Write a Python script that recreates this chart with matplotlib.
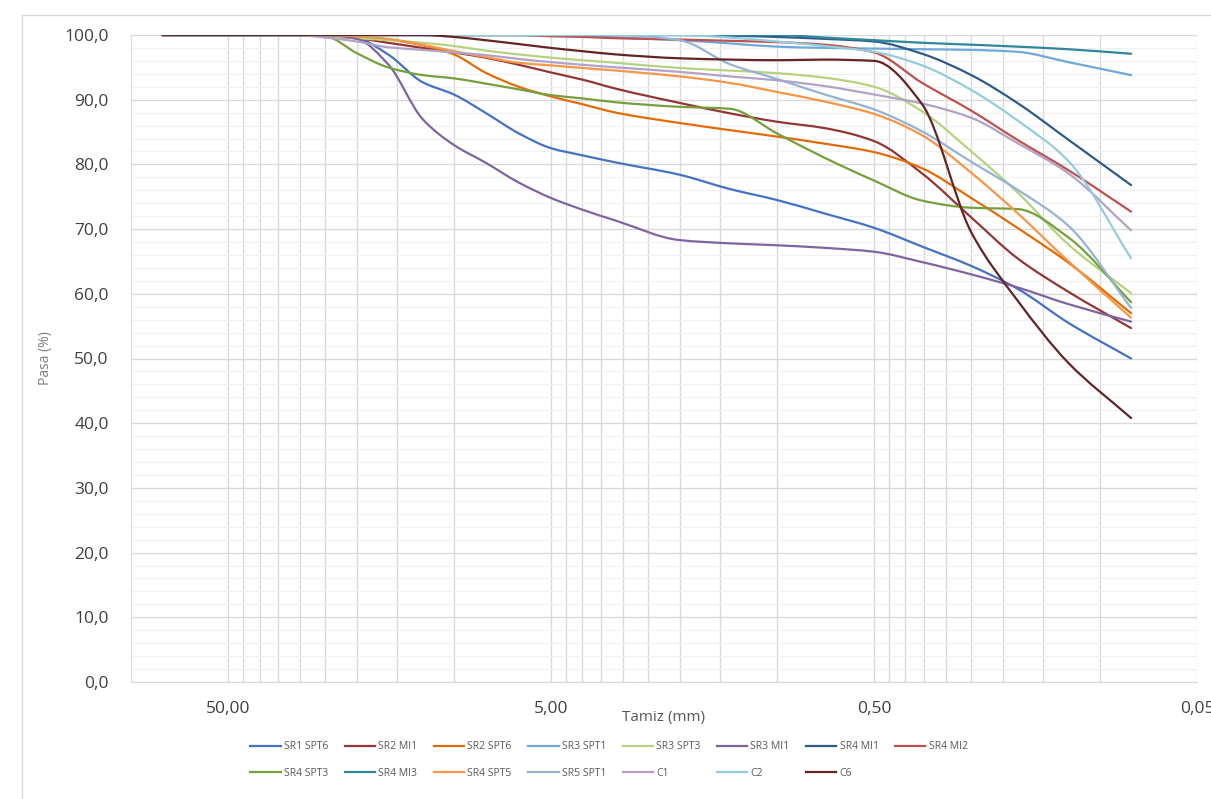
import numpy as np
import matplotlib
matplotlib.use('Agg')
import matplotlib.pyplot as plt
from matplotlib.path import Path
from matplotlib.patches import PathPatch, Rectangle
from matplotlib.lines import Line2D
from matplotlib.ticker import FixedLocator, FuncFormatter

plt.rcParams['font.family'] = ['Open Sans', 'DejaVu Sans']

# sieve openings (mm)
sieve = [80, 63, 50, 40, 31.5, 25, 20, 16, 12.5, 10, 8, 6.3, 5, 4, 3.15, 2, 1.4, 1,
         0.71, 0.5, 0.355, 0.25, 0.18, 0.125, 0.08]

# percent passing for each sample
sr1_spt6 = [100, 100, 100, 100, 100, 99.9, 99.5, 97.0, 92.7, 90.8, 88.0, 84.8, 82.5, 81.4, 80.3,
            78.4, 76.2, 74.5, 72.4, 70.2, 67.3, 64.3, 60.8, 55.5, 50.0]
sr2_mi1 = [100, 100, 100, 100, 100, 99.8, 99.5, 98.8, 98.0, 97.3, 96.5, 95.4, 94.2, 93.1, 91.7,
           89.5, 87.9, 86.6, 85.6, 83.6, 78.6, 71.8, 65.5, 60.3, 54.7]
sr2_spt6 = [100, 100, 100, 100, 100, 99.9, 99.7, 99.3, 98.4, 97.0, 94.2, 92.0, 90.5, 89.3, 88.0,
            86.4, 85.3, 84.3, 83.2, 81.9, 79.4, 74.8, 70.2, 64.8, 57.0]
sr3_spt1 = [100, 100, 100, 100, 100, 100, 100, 100, 100, 100, 100, 100, 99.9, 99.8, 99.6,
            99.2, 98.7, 98.2, 98.0, 97.9, 97.8, 97.7, 97.4, 95.8, 93.8]
sr3_spt3 = [100, 100, 100, 100, 100, 99.8, 99.5, 99.2, 98.8, 98.3, 97.6, 97.0, 96.5, 96.1, 95.7,
            94.9, 94.5, 94.1, 93.4, 92.0, 88.2, 82.0, 75.7, 67.6, 60.1]
sr3_mi1 = [100, 100, 100, 100, 100, 100, 99.4, 95.5, 87.0, 83.0, 80.3, 77.2, 74.8, 73.0, 71.3,
           68.3, 67.8, 67.5, 67.1, 66.5, 64.9, 63.0, 61.0, 58.4, 55.7]
sr4_mi1 = [100, 100, 100, 100, 100, 100, 100, 100, 100, 100, 100, 100, 100, 100, 100,
           100, 99.9, 99.7, 99.4, 99.0, 97.1, 93.8, 89.5, 83.8, 76.8]
sr4_mi2 = [100, 100, 100, 100, 100, 100, 100, 100, 100, 100, 100, 100, 99.8, 99.7, 99.5,
           99.3, 99.1, 98.9, 98.5, 97.3, 92.6, 88.3, 83.8, 79.1, 72.7]
sr4_spt3 = [100, 100, 100, 100, 100, 99.8, 97.2, 95.0, 93.8, 93.3, 92.5, 91.6, 90.7, 90.2, 89.6,
            88.9, 88.6, 84.8, 81.0, 77.5, 74.4, 73.3, 73.1, 68.7, 58.7]
sr4_mi3 = [100, 100, 100, 100, 100, 100, 100, 100, 100, 100, 100, 100, 100, 100, 100,
           100, 100, 100, 99.6, 99.2, 98.8, 98.5, 98.2, 97.8, 97.1]
sr4_spt5 = [100, 100, 100, 100, 100, 100, 99.8, 99.4, 98.5, 97.5, 96.6, 95.7, 95.3, 94.9, 94.5,
            93.6, 92.6, 91.2, 89.7, 87.8, 84.5, 78.7, 72.5, 65.0, 56.3]
sr5_spt1 = [100, 100, 100, 100, 100, 100, 100, 100, 100, 100, 100, 100, 100, 100, 100,
            99.2, 95.5, 93.2, 90.8, 88.5, 85.1, 80.4, 76.1, 70.5, 57.8]
c1 = [100, 100, 100, 100, 100, 99.6, 99.0, 98.1, 97.7, 97.3, 96.9, 96.3, 95.8, 95.4, 95.0,
      94.3, 93.6, 93.0, 92.1, 90.8, 89.4, 87.2, 83.3, 78.6, 69.8]
c2 = [100, 100, 100, 100, 100, 100, 100, 100, 100, 100, 100, 100, 100, 100, 100,
      100, 99.6, 99.0, 98.3, 97.4, 95.3, 91.5, 86.8, 80.5, 65.5]
c6 = [100, 100, 100, 100, 100, 100, 100, 100, 100, 99.7, 99.2, 98.6, 98.0, 97.5, 97.0,
      96.4, 96.2, 96.1, 96.2, 96.0, 89.3, 69.5, 59.0, 49.3, 40.8]

names = ['SR1 SPT6', 'SR2 MI1', 'SR2 SPT6', 'SR3 SPT1', 'SR3 SPT3', 'SR3 MI1', 'SR4 MI1', 'SR4 MI2',
         'SR4 SPT3', 'SR4 MI3', 'SR4 SPT5', 'SR5 SPT1', 'C1', 'C2', 'C6']
series = [sr1_spt6, sr2_mi1, sr2_spt6, sr3_spt1, sr3_spt3, sr3_mi1, sr4_mi1, sr4_mi2,
          sr4_spt3, sr4_mi3, sr4_spt5, sr5_spt1, c1, c2, c6]
colors = ['#4472C4', '#943634', '#E36C09', '#6FA8DC', '#B5D37E', '#8064A2', '#2E5C8A', '#C0504D',
          '#76A03C', '#31859C', '#F79646', '#95B3D7', '#B3A2C7', '#93CDDD', '#632523']


def smooth_path(xs, ys):
    # monotone cubic (pchip) through the points, drawn as bezier segments in log-x space
    t = np.log10(np.asarray(xs, float))[::-1]
    y = np.asarray(ys, float)[::-1]
    h = np.diff(t)
    d = np.diff(y) / h
    m = np.zeros_like(y)
    m[0], m[-1] = d[0], d[-1]
    for k in range(1, len(y) - 1):
        if d[k - 1] * d[k] > 0:
            w1 = 2 * h[k] + h[k - 1]
            w2 = h[k] + 2 * h[k - 1]
            m[k] = (w1 + w2) / (w1 / d[k - 1] + w2 / d[k])
    verts = [(t[0], y[0])]
    codes = [Path.MOVETO]
    for k in range(len(y) - 1):
        verts += [(t[k] + h[k] / 3, y[k] + m[k] * h[k] / 3),
                  (t[k + 1] - h[k] / 3, y[k + 1] - m[k + 1] * h[k] / 3),
                  (t[k + 1], y[k + 1])]
        codes += [Path.CURVE4] * 3
    verts = np.array(verts)
    verts[:, 0] = 10 ** verts[:, 0]
    return Path(verts, codes)


fig = plt.figure(figsize=(12.11, 7.99), dpi=100)
fig.patches.append(Rectangle((22 / 1211, -0.1), 1.2, 1.1 - 15 / 799, transform=fig.transFigure,
                             fill=False, edgecolor='#D9D9D9', lw=1.0))
ax = fig.add_axes([131 / 1211, 1 - 682 / 799, 1066 / 1211, 647 / 799])

ax.set_xscale('log')
ax.set_xlim(100, 0.05)
ax.set_ylim(0, 100)

grid_c = '#D9D9D9'
# vertical lines at 0.05 * k * 10^n
vlines = [0.05]
for base in [0.05, 0.5, 5, 50]:
    for k in range(2, 11):
        v = base * k
        if v < 100:
            vlines.append(v)
for v in vlines:
    ax.axvline(v, color=grid_c, lw=1.0, zorder=0)
for yv in range(0, 101, 2):
    if yv % 10 == 0:
        ax.axhline(yv, color=grid_c, lw=1.0, zorder=0)
    else:
        ax.axhline(yv, color='#F0F0F0', lw=0.8, zorder=0)

for s, c in zip(series, colors):
    ax.add_patch(PathPatch(smooth_path(sieve, s), fill=False, edgecolor=c, lw=1.6,
                           capstyle='round', joinstyle='round', zorder=3))

for sp in ['top', 'right']:
    ax.spines[sp].set_visible(False)
ax.spines['left'].set_color(grid_c)
ax.spines['bottom'].set_color(grid_c)

ax.xaxis.set_major_locator(FixedLocator([50, 5, 0.5, 0.05]))
ax.xaxis.set_minor_locator(FixedLocator([]))
ax.xaxis.set_major_formatter(FuncFormatter(lambda v, p: f'{v:.2f}'.replace('.', ',')))
ax.yaxis.set_major_locator(FixedLocator(range(0, 101, 10)))
ax.yaxis.set_major_formatter(FuncFormatter(lambda v, p: f'{v:.1f}'.replace('.', ',')))
ax.tick_params(axis='both', length=0, labelsize=12.5, labelcolor='#404040')
ax.tick_params(axis='y', pad=16)
ax.tick_params(axis='x', pad=14)

fig.text(663 / 1211, 1 - 718 / 799, 'Tamiz (mm)', ha='center', va='center', fontsize=11,
         color='#595959')
fig.text(46 / 1211, 1 - 358 / 799, 'Pasa (%)', ha='center', va='center', rotation=90,
         fontsize=10, color='#7F7F7F')

# legend filled row by row
handles = [Line2D([], [], color=c, lw=1.6) for c in colors]
order = []
for j in range(8):
    order.append(j)
    if j + 8 < len(names):
        order.append(j + 8)
fig.legend([handles[i] for i in order], [names[i] for i in order], ncol=8,
           loc='center', bbox_to_anchor=(609 / 1211, 1 - 760 / 799), frameon=False,
           fontsize=7.5, handlelength=2.9, handletextpad=0.3, columnspacing=1.6,
           labelspacing=1.5, labelcolor='#595959')

fig.savefig('out.png', dpi=100)
